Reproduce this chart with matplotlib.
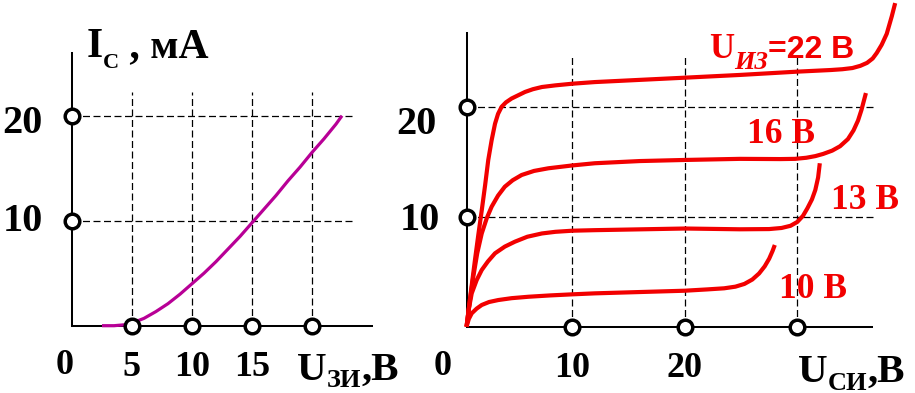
import matplotlib
matplotlib.use('Agg')
import matplotlib.pyplot as plt
from matplotlib.transforms import offset_copy

W, H = 915, 393
fig = plt.figure(figsize=(W / 100, H / 100), dpi=100)

SERIF = 'Liberation Serif'
SANS = 'Liberation Sans'
RED = '#f20000'
MAG = '#b80096'

# ---------------- data ----------------
# transfer characteristic I_C(U_ZI)
gate_u = [2.5, 3.5, 4.5, 5.0, 6.0, 7.0, 8.0, 9.0, 10.0, 11.0, 12.0, 13.0, 14.0,
          15.0, 16.0, 17.0, 18.0, 19.0, 20.0, 21.0, 22.0, 22.5]
gate_i = [0.0, 0.0, 0.1, 0.25, 0.7, 1.35, 2.1, 3.0, 4.0, 5.0, 6.1, 7.3, 8.5,
          9.8, 11.1, 12.4, 13.8, 15.1, 16.5, 17.8, 19.2, 20.0]
gate_xticks = [5, 10, 15, 20]
gate_xlabels = ['5', '10', '15']
gate_yticks = [10, 20]

# output characteristics I_C(U_SI)
drain_xticks = [10, 20, 30]
drain_xlabels = ['10', '20']
drain_yticks = [10, 20]

u22_x = [0.6, 0.9, 1.35, 1.65, 1.95, 2.25, 2.53, 2.83, 3.13, 3.4, 3.72, 4.1, 4.6,
         5.2, 5.8, 6.5, 7.3, 8.5, 10.0, 12.0, 16.0, 20.0, 24.9, 30.0, 33.0, 34.0,
         34.9, 35.6, 36.2, 36.7, 37.06, 37.5, 37.95, 38.4, 38.7]
u22_y = [0.0, 2.5, 6.1, 8.4, 10.6, 12.9, 15.2, 17.0, 18.5, 19.4, 20.05, 20.45, 20.8,
         21.1, 21.4, 21.65, 21.85, 22.0, 22.15, 22.3, 22.5, 22.7, 22.95, 23.25, 23.4,
         23.47, 23.58, 23.78, 24.05, 24.45, 24.95, 25.7, 26.7, 28.3, 29.5]

u16_x = [0.6, 0.9, 1.2, 1.55, 1.95, 2.4, 2.83, 3.4, 4.0, 4.7, 5.5, 6.6, 7.87, 10.0,
         12.0, 16.0, 20.0, 24.9, 28.5, 29.8, 30.8, 31.6, 32.3, 33.1, 33.8, 34.5,
         35.0, 35.4, 35.7, 36.1]
u16_y = [0.0, 2.4, 4.56, 6.7, 8.5, 9.9, 10.94, 11.95, 12.76, 13.35, 13.83, 14.2, 14.44,
         14.7, 14.9, 15.1, 15.2, 15.3, 15.28, 15.3, 15.4, 15.55, 15.75, 16.05, 16.45,
         17.1, 17.9, 18.8, 19.75, 21.3]

u13_x = [0.6, 0.8, 1.06, 1.5, 1.95, 2.5, 3.13, 4.0, 4.9, 6.0, 7.3, 8.5, 10.0, 12.0,
         20.0, 24.9, 27.5, 28.6, 29.4, 30.0, 30.5, 30.9, 31.3, 31.6, 31.85, 32.0]
u13_y = [0.0, 1.6, 3.04, 4.25, 5.17, 5.95, 6.69, 7.3, 7.75, 8.2, 8.5, 8.65, 8.75, 8.8,
         8.95, 8.88, 8.9, 9.0, 9.2, 9.55, 10.1, 10.8, 11.6, 12.46, 13.6, 14.9]

u10_x = [0.6, 0.8, 1.06, 1.5, 1.95, 2.6, 3.42, 4.6, 6.1, 8.0, 10.0, 12.0, 20.0, 22.0,
         23.5, 24.5, 25.3, 26.0, 26.6, 27.1, 27.5, 27.8, 28.0]
u10_y = [0.0, 0.7, 1.22, 1.65, 1.98, 2.25, 2.43, 2.6, 2.73, 2.85, 2.95, 3.04, 3.28, 3.4,
         3.5, 3.65, 3.9, 4.3, 4.85, 5.5, 6.2, 6.9, 7.45]

curve_labels = ['22', '16 В', '13 В', '10 В']


# ---------------- helpers ----------------
def make_axes(left_px, right_px, x0px, sx, y0px, sy):
    ax = fig.add_axes([left_px / W, 0, (right_px - left_px) / W, 1])
    ax.set_xlim((left_px - x0px) / sx, (right_px - x0px) / sx)
    ax.set_ylim((y0px - H) / sy, y0px / sy)
    ax.set_xticks([])
    ax.set_yticks([])
    for s in ('top', 'right'):
        ax.spines[s].set_visible(False)
    ax.patch.set_visible(False)
    return ax


def style_axes(ax, xa, ytop, xright):
    for s in ('left', 'bottom'):
        ax.spines[s].set_linewidth(1.45)
        ax.spines[s].set_color('black')
    ax.spines['left'].set_position(('data', xa))
    ax.spines['left'].set_bounds(0, ytop)
    ax.spines['bottom'].set_position(('data', 0))
    ax.spines['bottom'].set_bounds(xa, xright)


def text_run(ax, x, y, parts):
    renderer = fig.canvas.get_renderer()
    dx = 0.0
    for s, kw, dy in parts:
        tr = offset_copy(ax.transData, fig=fig, x=dx, y=dy, units='dots')
        t = ax.text(x, y, s, transform=tr, ha='left', va='baseline', **kw)
        dx += t.get_window_extent(renderer).width


def circles(ax, xs, ys):
    ax.plot(xs, ys, 'o', ms=10.5, mfc='white', mec='black', mew=2.5,
            zorder=6, clip_on=False)


DASH = (0, (5.6, 2.8))
B = dict(family=SERIF, weight='bold', color='black')
R = dict(family=SERIF, weight='bold', color=RED)

# ---------------- left panel ----------------
axL = make_axes(0, 420, 72, 12.0, 325.7, 10.5)
style_axes(axL, 0, 25.97, 25.0)
axL.vlines(gate_xticks, 0, 22.3, colors='black', linewidth=0.9, linestyles=DASH, zorder=1)
axL.hlines(gate_yticks, 0, 23.33, colors='black', linewidth=0.9, linestyles=DASH, zorder=1)
axL.plot(gate_u, gate_i, color=MAG, lw=2.3, zorder=3, solid_capstyle='butt',
         solid_joinstyle='round')
circles(axL, gate_xticks, [0] * len(gate_xticks))
circles(axL, [0] * len(gate_yticks), gate_yticks)

for v, lab in zip(gate_xticks, gate_xlabels):
    axL.text(v, -4.79, lab, ha='center', va='baseline', fontsize=26, **B)
for v, dy in zip(gate_yticks, (-0.95, -1.65)):
    axL.text(-2.42, v + dy, str(v), ha='right', va='baseline', fontsize=29, **B)
axL.text(-0.62, -4.6, '0', ha='center', va='baseline', fontsize=26, **B)

text_run(axL, 1.2, 25.59, [
    ('I', dict(fontsize=30, **B), 0),
    ('C', dict(fontsize=16, **B), -11),
    (' , мА', dict(fontsize=30, **B), 0),
])
text_run(axL, 18.75, -5.17, [
    ('U', dict(fontsize=29.5, **B), 0),
    ('ЗИ', dict(fontsize=19, **B), -7),
    (',В', dict(fontsize=29.5, **B), 0),
])

# ---------------- right panel ----------------
axR = make_axes(420, 915, 459.8, 11.25, 326.7, 10.97)
style_axes(axR, 0.6, 26.75, 36.67)
axR.vlines(drain_xticks, 0, 24.86, colors='black', linewidth=0.9, linestyles=DASH, zorder=1)
axR.hlines(drain_yticks, 0.6, 36.76, colors='black', linewidth=0.9, linestyles=DASH, zorder=1)
for xs, ys in ((u22_x, u22_y), (u16_x, u16_y), (u13_x, u13_y), (u10_x, u10_y)):
    axR.plot(xs, ys, color=RED, lw=3.0, zorder=3, clip_on=False,
             solid_joinstyle='round', solid_capstyle='butt')
circles(axR, drain_xticks, [0] * len(drain_xticks))
circles(axR, [0.6] * len(drain_yticks), drain_yticks)

for v, lab in zip(drain_xticks, drain_xlabels):
    axR.text(v, -4.59, lab, ha='center', va='baseline', fontsize=26, **B)
for v, xr, yb in zip(drain_yticks, (-1.76, -2.03), (8.82, 17.57)):
    axR.text(xr, yb, str(v), ha='right', va='baseline', fontsize=29, **B)
axR.text(-1.49, -4.4, '0', ha='center', va='baseline', fontsize=26, **B)

text_run(axR, 30.06, -5.04, [
    ('U', dict(fontsize=29.5, **B), 0),
    ('СИ', dict(fontsize=19, **B), -8.0),
    (',В', dict(fontsize=29.5, **B), 0),
])

text_run(axR, 22.17, 24.47, [
    ('U', dict(fontsize=25, **R), 0),
    ('ИЗ', dict(fontsize=19, style='italic', **R), -11),
    ('=' + curve_labels[0] + ' В', dict(fontsize=23, family=SANS, weight='bold', color=RED), 0),
])
for lab, (x, y) in zip(curve_labels[1:], ((25.53, 16.75), (32.97, 10.73), (28.37, 2.62))):
    axR.text(x, y, lab, ha='left', va='baseline', fontsize=25.5, **R)

fig.savefig('out.png', dpi=100)
